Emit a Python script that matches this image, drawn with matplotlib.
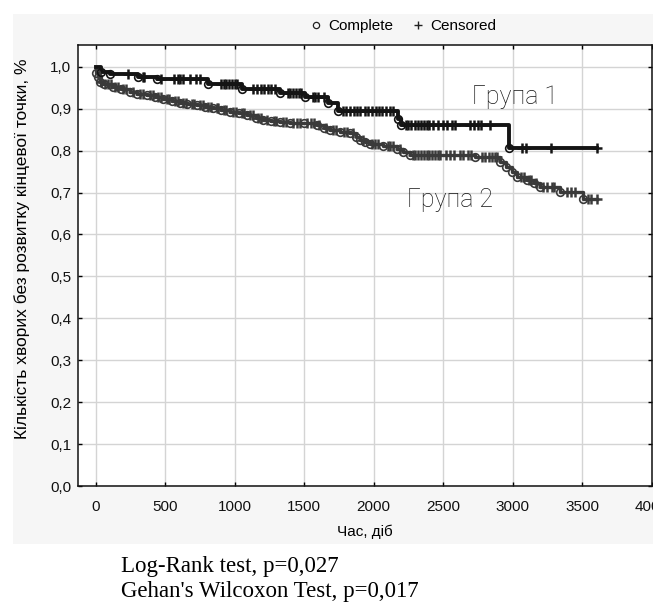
import numpy as np
import matplotlib
matplotlib.use('Agg')
import matplotlib.pyplot as plt
from matplotlib.patches import Rectangle
from matplotlib.lines import Line2D

# Group 1 (Група 1): Kaplan-Meier steps, censored times
g1_time = [0, 35, 100, 307, 439, 810, 1050, 1326, 1506, 1670, 1745, 2178, 2200, 2977]
g1_surv = [1.0, 0.988, 0.982, 0.976, 0.970, 0.958, 0.946, 0.938, 0.927, 0.913, 0.895, 0.875, 0.860, 0.806]
g1_cens = [230, 340, 350, 470, 560, 590, 610, 630, 680, 720, 750, 900, 920, 940, 960, 980, 1000,
           1017, 1130, 1160, 1190, 1210, 1240, 1260, 1290, 1380, 1400, 1420, 1440, 1460, 1480, 1560,
           1580, 1600, 1640, 1780, 1800, 1830, 1860, 1880, 1900, 1940, 1960, 1990, 2020, 2040, 2060,
           2090, 2120, 2140, 2230, 2250, 2270, 2300, 2320, 2340, 2360, 2380, 2400, 2430, 2460, 2500,
           2530, 2560, 2586, 2690, 2720, 2750, 2770, 2840, 3066, 3097, 3277, 3606]

# Group 2 (Група 2)
g2_time = [0, 5, 15, 31, 60, 127, 180, 247, 300, 367, 430, 487, 550, 607, 660, 727, 790, 847, 900,
           967, 1030, 1087, 1150, 1206, 1260, 1326, 1400, 1496, 1590, 1640, 1686, 1760, 1830, 1870,
           1902, 1940, 1974, 2070, 2166, 2210, 2262, 2730, 2910, 2950, 2994, 3030, 3102, 3150, 3198,
           3342, 3509]
g2_surv = [1.0, 0.985, 0.976, 0.964, 0.958, 0.952, 0.946, 0.940, 0.936, 0.932, 0.927, 0.922, 0.918,
           0.914, 0.912, 0.909, 0.905, 0.901, 0.897, 0.893, 0.889, 0.885, 0.879, 0.873, 0.871, 0.869,
           0.867, 0.865, 0.861, 0.855, 0.849, 0.845, 0.841, 0.833, 0.825, 0.821, 0.817, 0.811, 0.805,
           0.797, 0.789, 0.785, 0.773, 0.762, 0.750, 0.738, 0.730, 0.722, 0.714, 0.702, 0.684]
g2_cens = [40, 70, 90, 110, 140, 160, 200, 220, 270, 320, 340, 390, 410, 450, 470, 510, 530, 570,
           590, 630, 650, 690, 710, 750, 770, 810, 830, 870, 880, 920, 940, 990, 1010, 1050, 1070,
           1110, 1130, 1170, 1190, 1230, 1280, 1300, 1350, 1370, 1420, 1450, 1470, 1520, 1550, 1570,
           1610, 1660, 1710, 1730, 1790, 1810, 1850, 1920, 1990, 2010, 2030, 2100, 2120, 2140, 2190,
           2280, 2300, 2320, 2340, 2360, 2380, 2400, 2420, 2440, 2460, 2480, 2520, 2550, 2580, 2620,
           2640, 2680, 2700, 2780, 2800, 2830, 2850, 2870, 2890, 3060, 3080, 3120, 3130, 3170, 3220,
           3250, 3280, 3300, 3390, 3420, 3450, 3540, 3560, 3606]

x_ticks = [0, 500, 1000, 1500, 2000, 2500, 3000, 3500, 4000]
y_ticks = [0.0, 0.1, 0.2, 0.3, 0.4, 0.5, 0.6, 0.7, 0.8, 0.9, 1.0]
y_labels = ['0,0', '0,1', '0,2', '0,3', '0,4', '0,5', '0,6', '0,7', '0,8', '0,9', '1,0']

plt.rcParams['font.family'] = ['Liberation Sans', 'DejaVu Sans']

W, H = 653, 606
fig = plt.figure(figsize=(W / 100, H / 100), dpi=100)
fig.patches.append(Rectangle((12.7 / W, 1 - 544.3 / H), 1, (544.3 - 14) / H,
                             transform=fig.transFigure, facecolor='#f6f6f6',
                             edgecolor='none', zorder=-5))

ax = fig.add_axes([78.3 / W, 1 - 486 / H, (651.7 - 78.3) / W, (486 - 45) / H])
ax.set_zorder(2)
ax.set_facecolor('white')


def km_curve(ax, t, s, cens, color, lw):
    t = np.asarray(t); s = np.asarray(s); cens = np.asarray(cens)
    end = cens.max()
    ax.step(np.append(t, end), np.append(s, s[-1]), where='post', color=color, lw=lw, zorder=3)
    ax.plot(t[1:], s[1:], 'o', mfc='none', mec=color, ms=5.5, mew=1.2, zorder=4)
    cs = s[np.searchsorted(t, cens, side='right') - 1]
    ax.plot(cens, cs, '+', color=color, ms=7, mew=1.8, zorder=4)


km_curve(ax, g2_time, g2_surv, g2_cens, '#3a3a3a', 2.4)
km_curve(ax, g1_time, g1_surv, g1_cens, '#141414', 2.8)

ax.set_xlim(-125, 4000)
ax.set_ylim(0, 1.052)
ax.set_xticks(x_ticks)
ax.set_xticklabels([str(v) for v in x_ticks])
ax.set_yticks(y_ticks)
ax.set_yticklabels(y_labels)
ax.tick_params(direction='in', length=3, width=1, labelsize=11, top=True, right=True,
               labelcolor='#111111')
ax.tick_params(axis='x', pad=10)
ax.tick_params(axis='y', pad=5)
ax.grid(True, color='#d4d4d4', lw=1.0)
ax.set_axisbelow(True)
for sp in ax.spines.values():
    sp.set_linewidth(1.1)
    sp.set_color('#111111')

fig.text(365 / W, 1 - 532 / H, 'Час, діб', ha='center', va='center', fontsize=11)
fig.text(22 / W, 1 - 249 / H, 'Кількість хворих без розвитку кінцевої точки, %',
         rotation=90, ha='center', va='center', fontsize=12.5)

# legend strip at the top
handles = [Line2D([], [], ls='none', marker='o', mfc='none', mec='#222222', ms=4.5, mew=0.9),
           Line2D([], [], ls='none', marker='+', color='#222222', ms=5.5, mew=1.0)]
fig.legend(handles, ['Complete', 'Censored'], loc='center', bbox_to_anchor=(403 / W, 1 - 26 / H),
           ncol=2, frameon=False, prop={'family': 'Liberation Sans', 'stretch': 'normal', 'size': 11},
           handlelength=0.8, handletextpad=0.4, columnspacing=1.2)

# group labels
lab_font = dict(fontsize=18, family=['Roboto', 'DejaVu Sans'], weight='light', color='#151515')
fig.text(472 / W, 1 - 97 / H, 'Група 1', ha='left', va='center', zorder=5, **lab_font)
fig.text(407 / W, 1 - 200 / H, 'Група 2', ha='left', va='center', zorder=5, **lab_font)

fig.text(120.7 / W, 1 - 566.7 / H, 'Log-Rank test, p=0,027', ha='left', va='center',
         fontsize=16.5, family=['Liberation Serif'])
fig.text(120.7 / W, 1 - 591.7 / H, "Gehan's Wilcoxon Test, p=0,017", ha='left', va='center',
         fontsize=16.5, family=['Liberation Serif'])

fig.savefig('out.png', dpi=100)
